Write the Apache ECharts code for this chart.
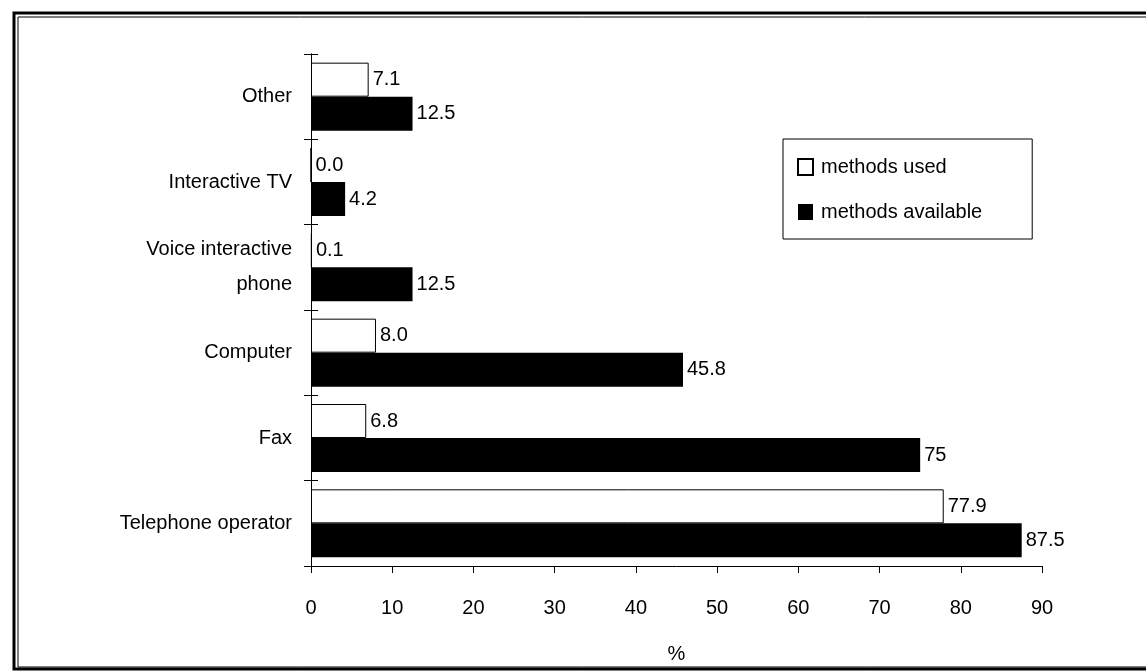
<!DOCTYPE html>
<html>
<head>
<meta charset="utf-8">
<script src="https://cdn.jsdelivr.net/npm/echarts@6/dist/echarts.min.js"></script>
<style>
html,body{margin:0;padding:0;background:#fff;}
#chart{width:1146px;height:672px;}
</style>
</head>
<body>
<div id="chart"></div>
<script>
// bottom-to-top category order
const categories = ["Telephone operator", "Fax", "Computer", "Voice interactive\nphone", "Interactive TV", "Other"];
const methodsUsed = [77.9, 6.8, 8.0, 0.1, 0.0, 7.1];
const methodsUsedLabels = ["77.9", "6.8", "8.0", "0.1", "0.0", "7.1"];
const methodsAvailable = [87.5, 75, 45.8, 12.5, 4.2, 12.5];
const methodsAvailableLabels = ["87.5", "75", "45.8", "12.5", "4.2", "12.5"];
const xTicks = [0, 10, 20, 30, 40, 50, 60, 70, 80, 90];

const FONT = "Liberation Sans, Arial, sans-serif";
const FS = 20;
const chart = echarts.init(document.getElementById('chart'), null, {renderer: 'canvas'});

const gridBox = {left: 311, right: 104, top: 54, bottom: 106, containLabel: false};

const option = {
  backgroundColor: '#fff',
  animation: false,
  grid: [Object.assign({}, gridBox), Object.assign({}, gridBox)],
  legend: {
    orient: 'vertical',
    left: 783, top: 139,
    padding: [18, 50, 17, 14],
    borderColor: '#000', borderWidth: 1,
    itemWidth: 15, itemHeight: 16, itemGap: 25,
    icon: 'rect',
    data: ['methods used', 'methods available'],
    textStyle: {fontFamily: FONT, fontSize: FS, color: '#000', padding: [0, 0, 0, 3]}
  },
  xAxis: [{
    type: 'value', min: 0, max: 90, interval: 10, gridIndex: 0,
    name: '%', nameLocation: 'middle', nameGap: 78,
    nameTextStyle: {fontFamily: FONT, fontSize: FS, color: '#000'},
    axisLine: {show: true, lineStyle: {color: '#000', width: 1}},
    axisTick: {show: true, length: 7, lineStyle: {color: '#000'}},
    axisLabel: {fontFamily: FONT, fontSize: FS, color: '#000', margin: 32,
      formatter: v => xTicks.includes(v) ? String(v) : ''},
    splitLine: {show: false}
  }, {
    type: 'value', min: 0, max: 90, interval: 10, gridIndex: 1, show: false
  }],
  yAxis: [{
    type: 'category', data: categories, gridIndex: 0,
    axisLine: {show: true, lineStyle: {color: '#000', width: 1}},
    axisTick: {show: true, length: 7, lineStyle: {color: '#000'}},
    axisLabel: {fontFamily: FONT, fontSize: FS, color: '#000', margin: 19, lineHeight: 35, align: 'right', padding: [12, 0, 0, 0]},
    splitLine: {show: false}
  }, {
    type: 'category', data: categories, gridIndex: 1,
    axisLine: {show: true, lineStyle: {color: '#000', width: 1}},
    axisTick: {show: true, inside: true, length: 7, lineStyle: {color: '#000'}},
    axisLabel: {show: false},
    splitLine: {show: false}
  }],
  series: [{
    name: 'methods used', type: 'bar', xAxisIndex: 0, yAxisIndex: 0,
    data: methodsUsed,
    barWidth: 34, barGap: '0%',
    itemStyle: {color: '#fff', borderColor: '#000', borderWidth: 1},
    label: {show: true, position: 'right', distance: 4, fontFamily: FONT, fontSize: FS, color: '#000',
      formatter: p => methodsUsedLabels[p.dataIndex]}
  }, {
    name: 'methods available', type: 'bar', xAxisIndex: 0, yAxisIndex: 0,
    data: methodsAvailable,
    barWidth: 34, barGap: '0%',
    itemStyle: {color: '#000', borderColor: '#000', borderWidth: 0},
    label: {show: true, position: 'right', distance: 4, fontFamily: FONT, fontSize: FS, color: '#000',
      formatter: p => methodsAvailableLabels[p.dataIndex]}
  }],
  graphic: [{
    type: 'rect', shape: {x: 14, y: 13, width: 1160, height: 656},
    style: {fill: 'none', stroke: '#000', lineWidth: 3}, silent: true
  }, {
    type: 'rect', shape: {x: 18, y: 17, width: 1160, height: 650},
    style: {fill: 'none', stroke: '#000', lineWidth: 1}, silent: true
  }]
};
chart.setOption(option);
</script>
</body>
</html>
